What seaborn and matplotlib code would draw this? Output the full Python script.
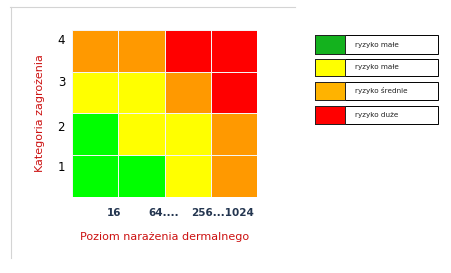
import numpy as np
import pandas as pd
import seaborn as sns
import matplotlib
matplotlib.use("Agg")
import matplotlib.pyplot as plt
from matplotlib.colors import ListedColormap
from matplotlib.patches import Rectangle
from matplotlib.lines import Line2D

# --- data ---
categories = ["4", "3", "2", "1"]            # Kategoria zagrożenia (top -> bottom)
exposure_labels = ["16", "64....", "256...1024"]
# risk level per cell: 0 = małe (green), 1 = małe (yellow), 2 = średnie, 3 = duże
row_4 = [2, 2, 3, 3]
row_3 = [1, 1, 2, 3]
row_2 = [0, 1, 1, 2]
row_1 = [0, 0, 1, 2]
cell_colors = ["#00ff00", "#ffff00", "#ff9900", "#ff0000"]
legend_labels = ["ryzyko małe", "ryzyko małe", "ryzyko średnie", "ryzyko duże"]
legend_colors = ["#14b21e", "#ffff00", "#ffb300", "#ff0000"]

W, H = 451, 273
fig = plt.figure(figsize=(W / 100, H / 100), dpi=100)
fig.patch.set_facecolor("white")

def px_axes(x0, y0, x1, y1):
    return fig.add_axes([x0 / W, 1 - y1 / H, (x1 - x0) / W, (y1 - y0) / H])

ax = px_axes(72, 30, 257, 197)
df = pd.DataFrame([row_4, row_3, row_2, row_1], index=categories)
sns.heatmap(df, ax=ax, cmap=ListedColormap(cell_colors), vmin=-0.5, vmax=3.5,
            cbar=False, linewidths=0.7, linecolor="#f4f4f4", square=False)

ax.set_yticks([0.24, 1.26, 2.34, 3.3])
ax.set_yticklabels(categories, rotation=0, fontsize=8.5, color="black")
ax.set_xticks([0.9, 1.98, 3.26])
ax.set_xticklabels(exposure_labels, rotation=0, fontsize=7.5, fontweight="bold",
                   color="#243650")
ax.tick_params(axis="both", length=0)
ax.tick_params(axis="y", pad=5)
ax.tick_params(axis="x", pad=8)
ax.set_xlabel("Poziom narażenia dermalnego", fontsize=8, color="#cc1111", labelpad=10)
ax.set_ylabel("Kategoria zagrożenia", fontsize=8, color="#cc1111", labelpad=9)
for s in ax.spines.values():
    s.set_visible(False)

# frame lines (top and left)
fig.add_artist(Line2D([10 / W, 295 / W], [1 - 7 / H, 1 - 7 / H], color="#d4d4d4", lw=0.8))
fig.add_artist(Line2D([11 / W, 11 / W], [1 - 7 / H, 1 - 258 / H], color="#d4d4d4", lw=0.8))

# legend
lax = px_axes(314, 34, 440, 126)
lax.set_xlim(314, 440)
lax.set_ylim(126, 34)
lax.axis("off")
row_tops = [35, 59, 82, 106]
row_h = [19, 17, 18, 18]
for top, h, lab, col in zip(row_tops, row_h, legend_labels, legend_colors):
    lax.add_patch(Rectangle((315, top), 123, h, facecolor="white", edgecolor="black", lw=0.7))
    lax.add_patch(Rectangle((315, top), 30, h, facecolor=col, edgecolor="#222222", lw=0.7))
    lax.text(355, top + h / 2, lab, fontsize=5.2, va="center", ha="left", color="#222222")

fig.savefig("out.png", dpi=100)
